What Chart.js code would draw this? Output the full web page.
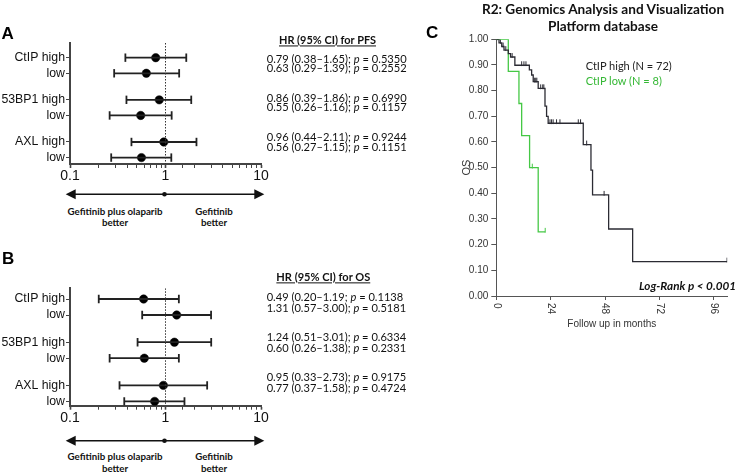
<!DOCTYPE html>
<html><head><meta charset="utf-8">
<script src="https://cdn.jsdelivr.net/npm/chart.js@4.4.0/dist/chart.umd.min.js"></script>
<style>
html,body{margin:0;padding:0;background:#fff;}
#wrap{position:relative;width:740px;height:476px;overflow:hidden;background:#fff;}
canvas{position:absolute;}
.t{position:absolute;white-space:nowrap;font-family:Lato,"Open Sans",sans-serif;color:#111;line-height:1.2;}
</style></head><body><div id="wrap">
<canvas id="cA" width="290" height="202" style="left:0;top:0"></canvas>
<canvas id="cB" width="290" height="205" style="left:0;top:245px"></canvas>
<canvas id="cC" width="320" height="340" style="left:420px;top:0"></canvas>
</div>
<script>
// ---------- Data ----------
const ROW_LABELS = ["CtIP high", "low", "53BP1 high", "low", "AXL high", "low"];
const FOREST_X_TICKS = [0.1, 1, 10];

// Panel A: HR for PFS
const PFS_HR = [0.79, 0.63, 0.86, 0.55, 0.96, 0.56];
const PFS_LO = [0.38, 0.29, 0.39, 0.26, 0.44, 0.27];
const PFS_HI = [1.65, 1.39, 1.86, 1.16, 2.11, 1.15];
const PFS_CI_TEXT = ["0.79 (0.38–1.65)", "0.63 (0.29–1.39)", "0.86 (0.39–1.86)", "0.55 (0.26–1.16)", "0.96 (0.44–2.11)", "0.56 (0.27–1.15)"];
const PFS_P = ["0.5350", "0.2552", "0.6990", "0.1157", "0.9244", "0.1151"];

// Panel B: HR for OS (markers as drawn in the figure)
const OS_HR = [0.59, 1.31, 1.24, 0.60, 0.95, 0.77];
const OS_LO = [0.20, 0.57, 0.51, 0.26, 0.33, 0.37];
const OS_HI = [1.38, 3.00, 3.01, 1.38, 2.73, 1.58];
const OS_CI_TEXT = ["0.49 (0.20–1.19", "1.31 (0.57–3.00)", "1.24 (0.51–3.01)", "0.60 (0.26–1.38)", "0.95 (0.33–2.73)", "0.77 (0.37–1.58)"];
const OS_P = ["0.1138", "0.5181", "0.6334", "0.2331", "0.9175", "0.4724"];

// Panel C: Kaplan-Meier OS
const KM_X_TICKS = [0, 24, 48, 72, 96];
const KM_Y_TICKS = [0, 0.1, 0.2, 0.3, 0.4, 0.5, 0.6, 0.7, 0.8, 0.9, 1.0];
const HIGH_T = [0, 1.2, 2.4, 3.4, 5.3, 6.3, 8.2, 14.6, 15.6, 16.3, 18.5, 21.5, 22.2, 22.9, 38.4, 41.8, 42.5, 49.6, 60.2, 101.9];
const HIGH_S = [1.00, 0.986, 0.972, 0.958, 0.944, 0.931, 0.899, 0.881, 0.861, 0.835, 0.809, 0.740, 0.700, 0.673, 0.590, 0.490, 0.394, 0.261, 0.134, 0.134];
const HIGH_CENS_T = [0.6, 1.8, 3.0, 4.2, 7.0, 11.2, 12.2, 13.1, 16.8, 17.4, 17.9, 19.6, 20.5, 21.0, 23.7, 24.4, 25.1, 26.6, 28.1, 36.2, 37.2, 39.9, 47.6, 101.9];
const HIGH_CENS_S = [1.00, 0.986, 0.972, 0.958, 0.931, 0.899, 0.899, 0.899, 0.835, 0.835, 0.835, 0.809, 0.809, 0.809, 0.673, 0.673, 0.673, 0.673, 0.673, 0.673, 0.673, 0.590, 0.394, 0.134];
const LOW_T = [0, 5.3, 10.0, 11.2, 14.7, 18.5, 21.6];
const LOW_S = [1.00, 0.875, 0.75, 0.625, 0.50, 0.25, 0.25];
const LOW_CENS_T = [15.9, 21.6];
const LOW_CENS_S = [0.50, 0.25];

// ---------- Layout (not data) ----------
const ROW_POS = [0, 1, 2.7, 3.7, 5.4, 6.4];
const AXIS_FONT = '"Liberation Sans", Arial, sans-serif';

const arrowPlugin = {
  id: 'forestArrow',
  afterDraw(chart, args, opts) {
    const {ctx, chartArea: ca, scales: {x}} = chart;
    const y = ca.bottom + opts.offset;
    const xl = ca.left - 4.3, xr = ca.right + 3.3;
    ctx.save();
    ctx.strokeStyle = '#111'; ctx.fillStyle = '#111'; ctx.lineWidth = 1.6;
    ctx.beginPath(); ctx.moveTo(xl + 8, y); ctx.lineTo(xr - 8, y); ctx.stroke();
    ctx.beginPath(); ctx.moveTo(xl, y); ctx.lineTo(xl + 10, y - 5); ctx.lineTo(xl + 10, y + 5); ctx.closePath(); ctx.fill();
    ctx.beginPath(); ctx.moveTo(xr, y); ctx.lineTo(xr - 10, y - 5); ctx.lineTo(xr - 10, y + 5); ctx.closePath(); ctx.fill();
    const xc = x.getPixelForValue(1);
    ctx.beginPath(); ctx.arc(xc - 1, y, 2.3, 0, Math.PI * 2); ctx.fill();
    ctx.restore();
  }
};

function makeForest(id, hr, lo, hi, L) {
  const datasets = [];
  datasets.push({type: 'line', data: [{x: 1, y: L.yMin}, {x: 1, y: L.yMax}], borderColor: '#333', borderWidth: 1, borderDash: [1.5, 1.5], pointRadius: 0});
  hr.forEach((v, i) => {
    datasets.push({type: 'line', data: [{x: lo[i], y: ROW_POS[i]}, {x: hi[i], y: ROW_POS[i]}],
      borderColor: '#222', borderWidth: 1.8, pointStyle: 'line', pointRotation: 90,
      pointRadius: 4.2, pointBorderWidth: 1.8, pointBorderColor: '#222', pointBackgroundColor: '#222'});
  });
  datasets.push({type: 'scatter', data: hr.map((v, i) => ({x: v, y: ROW_POS[i]})),
    pointRadius: 4.2, pointBackgroundColor: '#000', pointBorderColor: '#000', pointBorderWidth: 0.5});
  return new Chart(document.getElementById(id), {
    type: 'scatter',
    data: {datasets},
    options: {
      responsive: false, animation: false, events: [],
      layout: {padding: {left: 0, right: 29, top: L.padTop, bottom: L.padBottom}},
      plugins: {legend: {display: false}, tooltip: {enabled: false}, forestArrow: {offset: L.arrowOffset}},
      scales: {
        x: {
          type: 'logarithmic', min: 0.1, max: 10, position: 'bottom',
          afterFit: s => { s.height = 26; },
          border: {display: true, color: '#444', width: 2},
          grid: {drawOnChartArea: false, drawTicks: true, tickLength: 4, color: '#444',
                 tickWidth: c => (c.tick && c.tick.major) ? 1.6 : 1},
          ticks: {autoSkip: false, maxRotation: 0, minRotation: 0, padding: 0, color: '#111',
                  font: {family: AXIS_FONT, size: 14},
                  callback: v => FOREST_X_TICKS.some(t => Math.abs(t - v) < 1e-9) ? String(v) : ''}
        },
        y: {
          type: 'linear', reverse: true, min: L.yMin, max: L.yMax,
          afterFit: s => { s.width = 70; },
          afterBuildTicks: s => { s.ticks = ROW_POS.map(v => ({value: v})); },
          border: {display: true, color: '#444', width: 2},
          grid: {drawOnChartArea: false, drawTicks: true, tickLength: 4, color: '#444'},
          ticks: {autoSkip: false, padding: 1, color: '#111', font: {family: AXIS_FONT, size: 12.3},
                  callback: (v, i) => ROW_LABELS[i]}
        }
      }
    },
    plugins: [arrowPlugin]
  });
}

makeForest('cA', PFS_HR, PFS_LO, PFS_HI, {yMin: -0.94, yMax: 6.81, padTop: 43, padBottom: 12, arrowOffset: 30.3});
makeForest('cB', OS_HR, OS_LO, OS_HI, {yMin: -0.67, yMax: 6.67, padTop: 43.3, padBottom: 18.3, arrowOffset: 35});

// ---------- Kaplan-Meier ----------
const rotLabels = {
  id: 'rotLabels',
  afterDraw(chart) {
    const s = chart.scales.x, ctx = chart.ctx;
    ctx.save();
    ctx.fillStyle = '#333'; ctx.font = '10px ' + AXIS_FONT; ctx.textAlign = 'left'; ctx.textBaseline = 'middle';
    KM_X_TICKS.forEach(v => {
      const px = s.getPixelForValue(v);
      ctx.save(); ctx.translate(px, s.top + 7); ctx.rotate(Math.PI / 2); ctx.fillText(String(v), 0, 0); ctx.restore();
    });
    ctx.restore();
  }
};

const GREEN = '#45c845';
new Chart(document.getElementById('cC'), {
  type: 'line',
  data: {datasets: [
    {data: HIGH_T.map((t, i) => ({x: t, y: HIGH_S[i]})), stepped: 'before', borderColor: '#2b2b33', borderWidth: 1.3, pointRadius: 0},
    {data: LOW_T.map((t, i) => ({x: t, y: LOW_S[i]})), stepped: 'before', borderColor: GREEN, borderWidth: 1.3, pointRadius: 0},
    {type: 'scatter', data: HIGH_CENS_T.map((t, i) => ({x: t, y: HIGH_CENS_S[i] + 0.006})), pointStyle: 'line', pointRotation: 90,
     pointRadius: 2.4, pointBorderWidth: 1, pointBorderColor: '#2b2b33'},
    {type: 'scatter', data: LOW_CENS_T.map((t, i) => ({x: t, y: LOW_CENS_S[i] + 0.006})), pointStyle: 'line', pointRotation: 90,
     pointRadius: 2.4, pointBorderWidth: 1, pointBorderColor: GREEN}
  ]},
  options: {
    responsive: false, animation: false, events: [],
    layout: {padding: {left: 0, right: 12.7, top: 39.3, bottom: 0}},
    plugins: {legend: {display: false}, tooltip: {enabled: false}},
    scales: {
      x: {
        type: 'linear', min: 0, max: 102,
        afterFit: s => { s.height = 44; },
        afterBuildTicks: s => { s.ticks = KM_X_TICKS.map(v => ({value: v})); },
        border: {display: true, color: '#555', width: 1},
        grid: {drawOnChartArea: false, drawTicks: true, tickLength: 4, color: '#555'},
        ticks: {display: false},
        title: {display: true, text: 'Follow up in months', color: '#333', font: {family: AXIS_FONT, size: 10}, padding: {top: 0, bottom: 10}}
      },
      y: {
        type: 'linear', min: 0, max: 1,
        afterFit: s => { s.width = 76.3; },
        afterBuildTicks: s => { s.ticks = KM_Y_TICKS.map(v => ({value: v})); },
        border: {display: true, color: '#555', width: 1},
        grid: {drawOnChartArea: false, drawTicks: true, tickLength: 5, color: '#555'},
        ticks: {autoSkip: false, padding: 3, color: '#333', font: {family: AXIS_FONT, size: 10}, callback: v => Number(v).toFixed(2)},
        title: {display: true, text: 'OS', color: '#333', font: {family: AXIS_FONT, size: 11}, padding: {top: 40, bottom: 0}}
      }
    }
  },
  plugins: [rotLabels]
});

// ---------- Annotation text ----------
const wrap = document.getElementById('wrap');
function addText(html, x, y, style, align, targetW) {
  const d = document.createElement('div');
  d.className = 't'; d.innerHTML = html;
  d.style.left = x + 'px'; d.style.top = y + 'px';
  const tx = align === 'center' ? '-50%' : align === 'right' ? '-100%' : '0';
  d.style.transform = `translate(${tx},-50%)`;
  Object.assign(d.style, style || {});
  wrap.appendChild(d);
  if (targetW) {
    for (let k = 0; k < 3; k++) {
      const w = d.getBoundingClientRect().width;
      const fs = parseFloat(getComputedStyle(d).fontSize);
      d.style.fontSize = (fs * targetW / w).toFixed(2) + 'px';
    }
  }
  return d;
}
const sizeOf = d => getComputedStyle(d).fontSize;

const LETTER = {fontFamily: AXIS_FONT, fontWeight: 'bold', fontSize: '17px', color: '#000'};
addText('A', 1.5, 34, LETTER);
addText('B', 2, 259, LETTER);
addText('C', 426, 33, LETTER);

const HDR = {fontWeight: 'bold', fontSize: '11.5px', textDecoration: 'underline'};
addText('HR (95% CI) for PFS', 327.5, 40, HDR, 'center', 97);
const PFS_Y = [59, 68.3, 97.7, 107.3, 136.7, 146.7];
let first = addText(`${PFS_CI_TEXT[0]}; <i>p</i> = ${PFS_P[0]}`, 266.7, PFS_Y[0], {fontSize: '11.5px'}, 'left', 140);
PFS_CI_TEXT.forEach((s, i) => { if (i) addText(`${s}; <i>p</i> = ${PFS_P[i]}`, 266.7, PFS_Y[i], {fontSize: sizeOf(first)}); });

addText('HR (95% CI) for OS', 323.3, 276.7, HDR, 'center', 94);
const OS_Y = [296.7, 308.3, 336.7, 348.3, 376.7, 388.3];
first = addText(`${OS_CI_TEXT[0]}; <i>p</i> = ${OS_P[0]}`, 266.7, OS_Y[0], {fontSize: '11.5px'}, 'left', 136.5);
OS_CI_TEXT.forEach((s, i) => { if (i) addText(`${s}; <i>p</i> = ${OS_P[i]}`, 266.7, OS_Y[i], {fontSize: sizeOf(first)}); });

[[211.7, 222.7], [456.7, 469]].forEach(([y1, y2]) => {
  const g = addText('Gefitinib plus olaparib', 115, y1, {fontWeight: 'bold', fontSize: '10px'}, 'center', 95);
  const BET = {fontWeight: 'bold', fontSize: sizeOf(g)};
  addText('better', 115, y2, BET, 'center');
  addText('Gefitinib', 214, y1, BET, 'center');
  addText('better', 214, y2, BET, 'center');
});

const t2 = addText('Platform database', 603, 25.5, {fontWeight: 'bold', fontSize: '13.5px'}, 'center', 110);
addText('R2: Genomics Analysis and Visualization', 603, 9, {fontWeight: 'bold', fontSize: sizeOf(t2)}, 'center');
const lg = addText('CtIP high (N = 72)', 585.7, 65.7, {fontSize: '13px', color: '#222'}, 'left', 86);
addText('CtIP low (N = 8)', 585.7, 81, {fontSize: sizeOf(lg), color: '#35b835'});
addText('Log-Rank <i>p</i> &lt; 0.001', 736, 285, {fontSize: '12.5px', fontWeight: 'bold', fontStyle: 'italic'}, 'right', 97);
</script></body></html>
